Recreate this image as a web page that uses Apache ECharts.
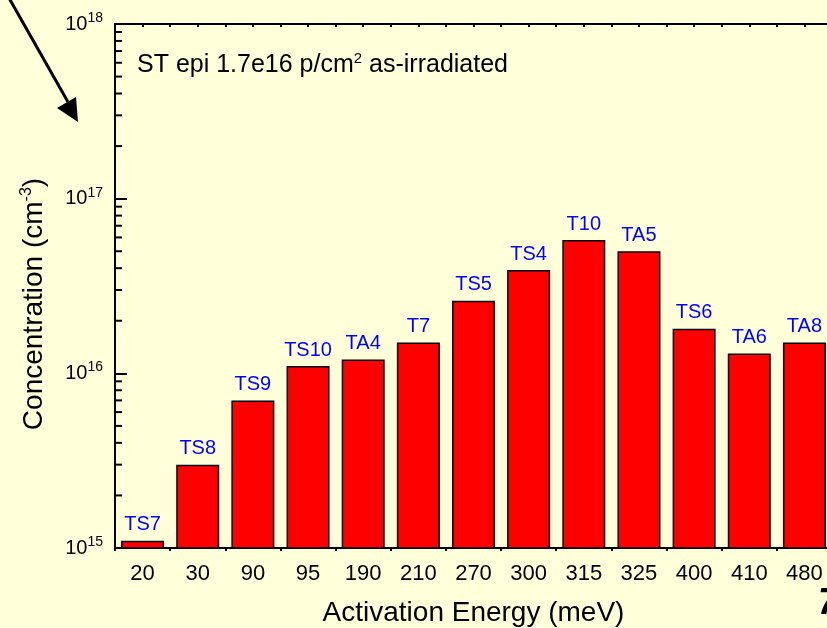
<!DOCTYPE html>
<html>
<head>
<meta charset="utf-8">
<script src="https://cdn.jsdelivr.net/npm/echarts@6/dist/echarts.min.js"></script>
<style>html,body{margin:0;padding:0;background:#FFFFDA;}#c{width:827px;height:628px;}</style>
</head>
<body>
<div id="c"></div>
<script>
// Data
var energies = ['20','30','90','95','190','210','270','300','315','325','400','410','480'];
var defects = ['TS7','TS8','TS9','TS10','TA4','T7','TS5','TS4','T10','TA5','TS6','TA6','TA8'];
var concentrations = [1.1e15, 3.0e15, 7.0e15, 1.1e16, 1.2e16, 1.5e16, 2.6e16, 3.9e16, 5.8e16, 5.0e16, 1.8e16, 1.3e16, 1.5e16];
var yMin = 1e15, yMax = 1e18;
var sampleNote = ['ST epi 1.7e16 p/cm', '2', ' as-irradiated'];

var FONT = '"Liberation Sans", Arial, sans-serif';

// minor tick values for log axis (2..9 x 10^n)
var minorVals = [];
for (var e = 15; e < 18; e++) {
  for (var m = 2; m <= 9; m++) minorVals.push([0, m * Math.pow(10, e)]);
}

var chart = echarts.init(document.getElementById('c'), null, {renderer: 'canvas'});

var option = {
  backgroundColor: '#FFFFDA',
  animation: false,
  textStyle: {fontFamily: FONT},
  grid: {left: 115, top: 24, bottom: 80, width: 717, containLabel: false, outerBoundsMode: 'none'},
  xAxis: [
    {
      type: 'category', data: energies, position: 'bottom',
      name: 'Activation Energy (meV)', nameLocation: 'middle', nameGap: 51,
      nameTextStyle: {fontSize: 28, color: '#000', fontFamily: FONT},
      axisLine: {lineStyle: {color: '#000', width: 2}},
      axisTick: {alignWithLabel: true, inside: true, length: 10, lineStyle: {color: '#000', width: 2}},
      axisLabel: {fontSize: 22, color: '#000', margin: 15, fontFamily: FONT},
      splitLine: {show: false}
    },
    {
      type: 'category', data: energies, position: 'bottom',
      axisLine: {show: false},
      axisTick: {show: true, inside: false, length: 3, lineStyle: {color: '#000', width: 2}},
      axisLabel: {show: false}, splitLine: {show: false}
    },
    {
      type: 'category', data: energies, position: 'top',
      axisLine: {lineStyle: {color: '#000', width: 2}},
      axisTick: {show: true, inside: true, length: 3, lineStyle: {color: '#000', width: 2}},
      axisLabel: {show: false}, splitLine: {show: false}
    },
    {
      type: 'category', data: energies, position: 'top',
      axisLine: {show: false},
      axisTick: {show: true, alignWithLabel: true, inside: true, length: 3, lineStyle: {color: '#000', width: 2}},
      axisLabel: {show: false}, splitLine: {show: false}
    }
  ],
  yAxis: {
    type: 'log', logBase: 10, min: yMin, max: yMax,
    name: '{n|Concentration (cm}{s|-3}{n|)}', nameLocation: 'middle', nameGap: 66, nameRotate: 90,
    nameTextStyle: {
      padding: [0, 36, 0, 0],
      rich: {
        n: {fontSize: 28, color: '#000', fontFamily: FONT},
        s: {fontSize: 16, color: '#000', fontFamily: FONT, padding: [0, 0, 14, 0]}
      }
    },
    axisLine: {show: true, lineStyle: {color: '#000', width: 2}},
    axisTick: {show: true, inside: true, length: 12, lineStyle: {color: '#000', width: 2}},
    splitLine: {show: false},
    axisLabel: {
      margin: 12,
      formatter: function (v) {
        var exp = Math.round(Math.log10(v));
        return '{b|10}{s|' + exp + '}';
      },
      rich: {
        b: {fontSize: 20, color: '#000', fontFamily: FONT},
        s: {fontSize: 14, color: '#000', fontFamily: FONT, padding: [0, 0, 12, 0]}
      }
    }
  },
  series: [
    {
      type: 'bar', xAxisIndex: 0, data: concentrations, barWidth: 43,
      itemStyle: {color: '#FF0000', borderColor: '#000', borderWidth: 1.5},
      label: {
        show: true, position: 'top', distance: 6, color: '#0000FF', fontSize: 20, fontFamily: FONT,
        formatter: function (p) { return defects[p.dataIndex]; }
      },
      z: 2
    },
    {
      type: 'custom', xAxisIndex: 0, data: minorVals, silent: true, z: 5,
      renderItem: function (params, api) {
        var cs = params.coordSys;
        var y = api.coord([0, api.value(1)])[1];
        return {
          type: 'line',
          shape: {x1: cs.x, y1: y, x2: cs.x + 7, y2: y},
          style: {stroke: '#000', lineWidth: 2}
        };
      }
    }
  ],
  graphic: [
    {
      type: 'line', shape: {x1: 9, y1: -2, x2: 68, y2: 102},
      style: {stroke: '#000', lineWidth: 3}
    },
    {
      type: 'polygon', shape: {points: [[78, 122], [57, 108], [76, 97]]},
      style: {fill: '#000'}
    },
    {
      type: 'text', left: 137, top: 51,
      style: {
        text: '{n|' + sampleNote[0] + '}{s|' + sampleNote[1] + '}{n|' + sampleNote[2] + '}',
        rich: {
          n: {fontSize: 25, fill: '#000', fontFamily: FONT},
          s: {fontSize: 15, fill: '#000', fontFamily: FONT, padding: [0, 0, 14, 0]}
        }
      }
    },
    {
      type: 'text', left: 818, top: 586,
      style: {text: '7', fontSize: 36, fontStyle: 'italic', fontWeight: 'bold', fill: '#000', fontFamily: FONT}
    }
  ]
};
chart.setOption(option);
</script>
</body>
</html>
